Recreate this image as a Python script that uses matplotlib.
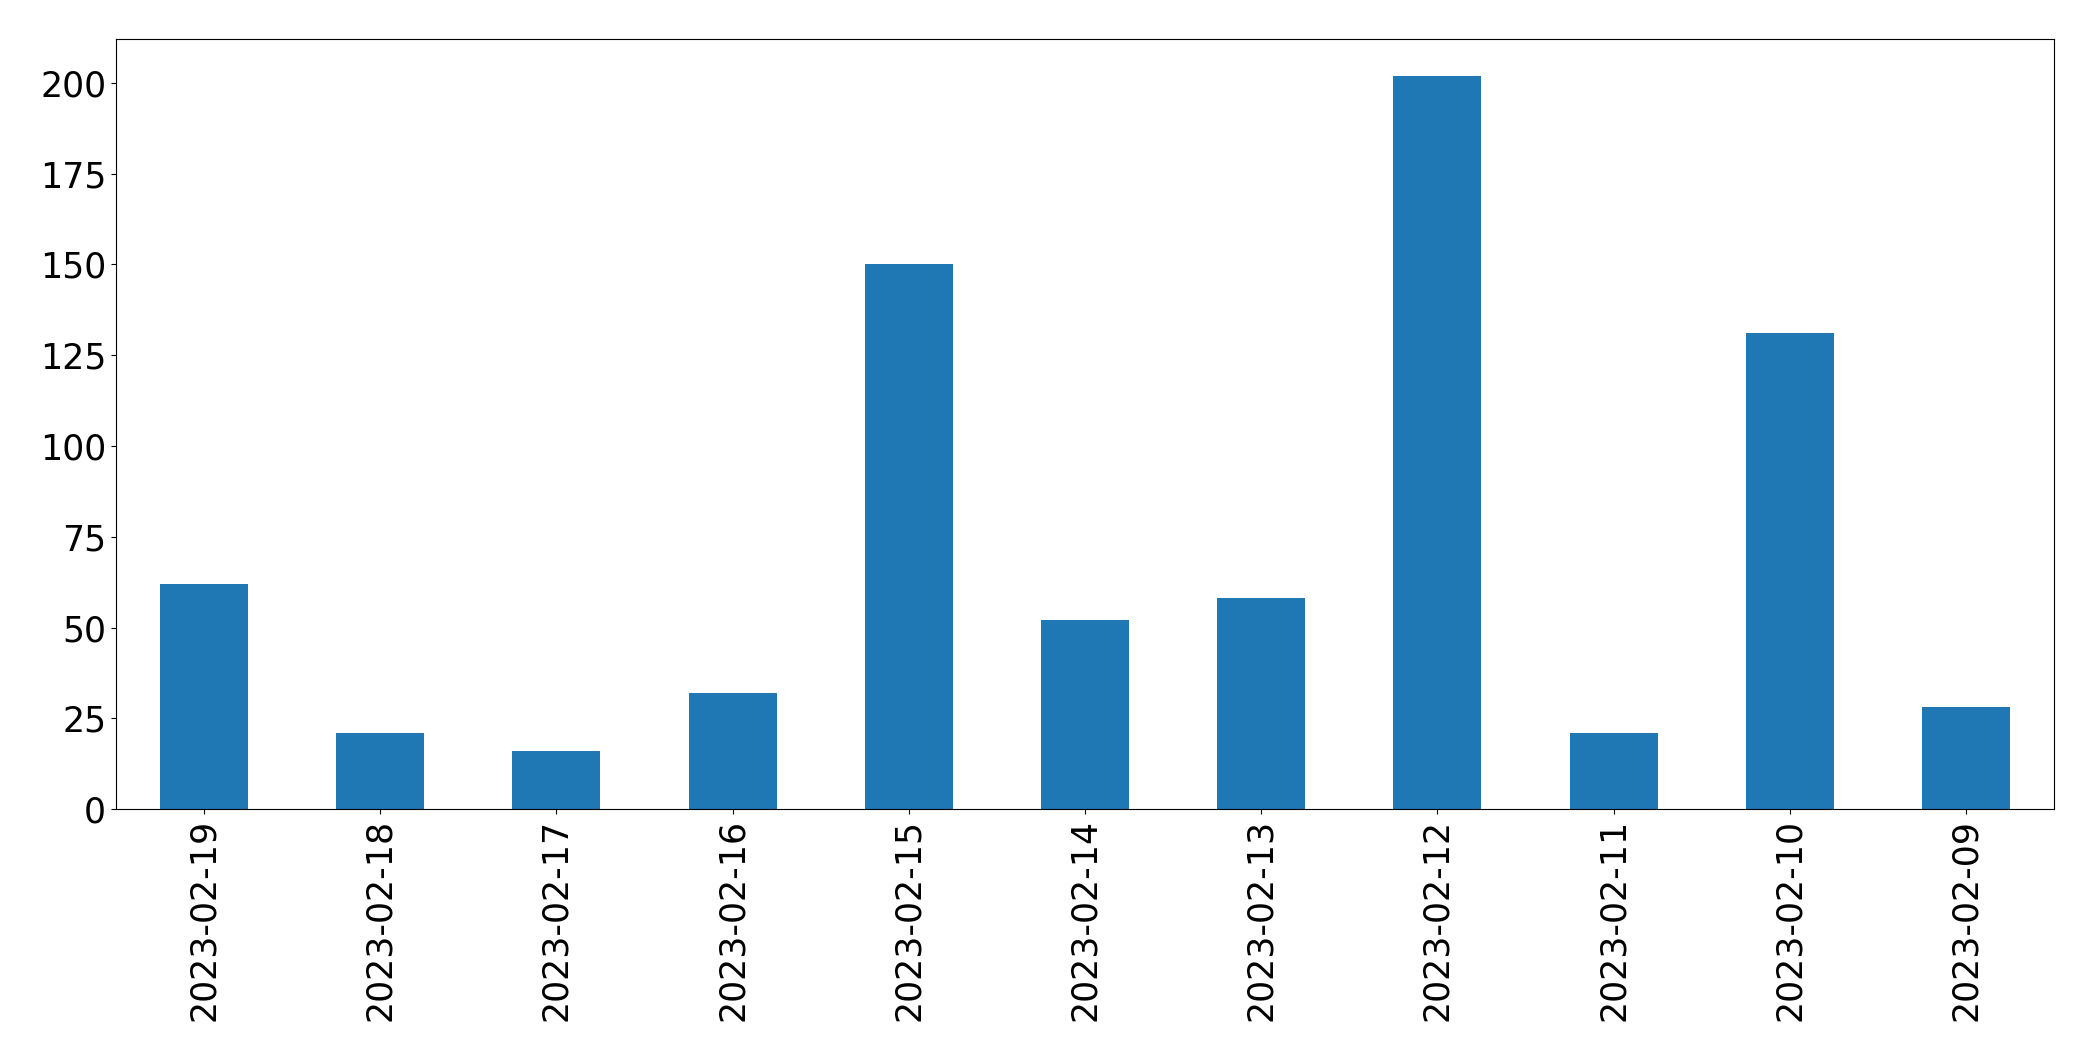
import matplotlib
matplotlib.use("Agg")
import matplotlib.pyplot as plt
import numpy as np

dates = ['2023-02-19', '2023-02-18', '2023-02-17', '2023-02-16', '2023-02-15', '2023-02-14',
         '2023-02-13', '2023-02-12', '2023-02-11', '2023-02-10', '2023-02-09']
counts = [62, 21, 16, 32, 150, 52, 58, 202, 21, 131, 28]

fig = plt.figure(figsize=(20.93, 10.61), dpi=100)
ax = fig.add_axes([0.0554, 0.2375, 0.926, 0.7257])

ind = np.arange(len(dates))
ax.bar(ind, counts, width=0.5, color='#1f77b4')
ax.set_xlim(-0.5, len(dates) - 0.5)
ax.set_ylim(0, max(counts) * 1.05)
ax.set_xticks(ind)
ax.set_xticklabels(dates, rotation=90, fontsize=25)
ax.set_yticks(np.arange(0, 201, 25))
ax.tick_params(axis='y', labelsize=25)

fig.savefig("out.png", dpi=100)
